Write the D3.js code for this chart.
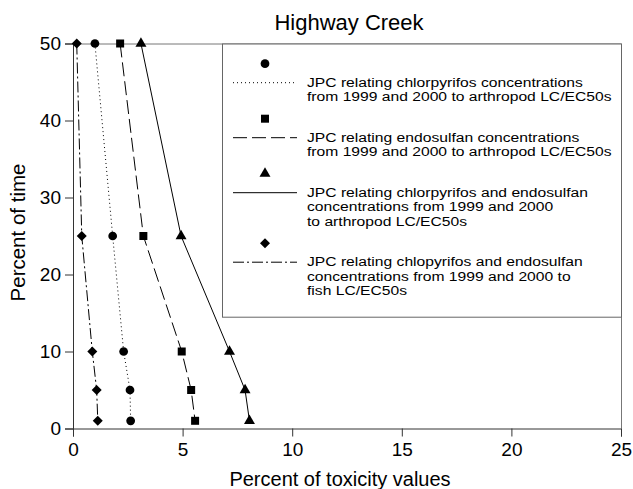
<!DOCTYPE html>
<html lang="en">

<head>
    <meta charset="UTF-8">
    <title>Highway Creek</title>
    <style>
        body {
            margin: 0;
            background: #fff;
        }

        text {
            font-family: "Liberation Sans", Arial, sans-serif;
            fill: #000;
        }
    </style>
</head>

<body>

    <script src="https://d3js.org/d3.v7.min.js"></script>

    <div id="my_dataviz"></div>
    <script>
        // data
        var pctTime = [50, 25, 10, 5, 1];
        var chlorpyrifos = [1.0, 1.81, 2.31, 2.60, 2.63];
        var endosulfan = [2.15, 3.21, 4.96, 5.39, 5.57];
        var combined = [3.10, 4.93, 7.14, 7.85, 8.05];
        var fish = [0.17, 0.40, 0.88, 1.08, 1.13];

        var xTicks = [0, 5, 10, 15, 20, 25];
        var yTicks = [0, 10, 20, 30, 40, 50];

        var legendLabels = [
            ["JPC relating chlorpyrifos concentrations", "from 1999 and 2000 to arthropod LC/EC50s"],
            ["JPC relating endosulfan concentrations", "from 1999 and 2000 to arthropod LC/EC50s"],
            ["JPC relating chlorpyrifos and endosulfan", "concentrations from 1999 and 2000", "to arthropod LC/EC50s"],
            ["JPC relating chlopyrifos and endosulfan", "concentrations from 1999 and 2000 to", "fish LC/EC50s"]
        ];

        // set the dimensions and margins of the graph
        var margin = { top: 43.5, right: 12, bottom: 60.5, left: 73 },
            width = 633 - margin.left - margin.right,
            height = 489 - margin.top - margin.bottom;

        var svg = d3.select("#my_dataviz")
            .append("svg")
            .attr("width", 633)
            .attr("height", 489)
            .append("g")
            .attr("transform", "translate(" + margin.left + "," + margin.top + ")");

        var x = d3.scaleLinear().domain([0, 25]).range([0, width]);
        var y = d3.scaleLinear().domain([0, 50]).range([height, 0]);

        // frame top and right
        svg.append("path")
            .attr("d", "M0.5,0.5H" + (width + 0.5) + "V" + height)
            .attr("fill", "none")
            .attr("stroke", "#777");

        // axes
        var xAxis = svg.append("g")
            .attr("transform", "translate(0," + height + ")")
            .call(d3.axisBottom(x).tickValues(xTicks).tickSize(8).tickPadding(6).tickFormat(d3.format("d")));
        var yAxis = svg.append("g")
            .call(d3.axisLeft(y).tickValues(yTicks).tickSize(8).tickPadding(4).tickFormat(d3.format("d")));
        [xAxis, yAxis].forEach(function (a) {
            a.selectAll("text").style("font-size", "19px").style("font-family", "Liberation Sans, Arial, sans-serif");
            a.select(".domain").attr("stroke", "#333");
            a.selectAll(".tick line").attr("stroke", "#333");
        });

        var series = [
            { vals: chlorpyrifos, dash: "1,3", sym: d3.symbolCircle, size: 60, rot: 0 },
            { vals: endosulfan, dash: "14,5", sym: d3.symbolSquare, size: 64, rot: 0 },
            { vals: combined, dash: null, sym: d3.symbolTriangle, size: 52, rot: 0 },
            { vals: fish, dash: "11,3,2,3", sym: d3.symbolSquare, size: 50, rot: 45 }
        ];

        var line = d3.line()
            .x(function (d) { return x(d[0]) })
            .y(function (d) { return y(d[1]) });

        series.forEach(function (s) {
            var pts = s.vals.map(function (v, i) { return [v, pctTime[i]]; });
            svg.append("path")
                .datum(pts)
                .attr("fill", "none")
                .attr("stroke", "#000")
                .attr("stroke-width", 1)
                .attr("stroke-dasharray", s.dash)
                .attr("d", line);
            svg.selectAll(null)
                .data(pts)
                .enter()
                .append("path")
                .attr("d", d3.symbol().type(s.sym).size(s.size))
                .attr("transform", function (d) { return "translate(" + x(d[0]) + "," + y(d[1]) + ") rotate(" + s.rot + ")"; })
                .attr("fill", "#000");
        });

        // legend
        var lgX = 222 - margin.left, lgW = 621 - 222, lgH = 316.7 - 43.5;
        var legend = svg.append("g");
        legend.append("rect")
            .attr("x", lgX + 0.5)
            .attr("y", 0.5)
            .attr("width", lgW)
            .attr("height", lgH)
            .attr("fill", "#fff")
            .attr("stroke", "#666");

        var rowY = 82.7 - margin.top;
        series.forEach(function (s, i) {
            var g = legend.append("g");
            g.append("path")
                .attr("d", d3.symbol().type(s.sym).size(s.size))
                .attr("transform", "translate(" + (265 - margin.left) + "," + (rowY - 19) + ") rotate(" + s.rot + ")")
                .attr("fill", "#000");
            g.append("line")
                .attr("x1", 233 - margin.left)
                .attr("x2", 297 - margin.left)
                .attr("y1", rowY)
                .attr("y2", rowY)
                .attr("stroke", "#000")
                .attr("stroke-dasharray", s.dash);
            legendLabels[i].forEach(function (t, j) {
                g.append("text")
                    .attr("transform", "translate(" + (307 - margin.left) + "," + (rowY + 4 + j * 14.5) + ") scale(1.16,1)")
                    .style("font-size", "13.5px")
                    .text(t);
            });
            rowY += 26 + 14.5 * legendLabels[i].length;
        });

        // titles
        d3.select("svg").append("text")
            .attr("x", 349)
            .attr("y", 29.5)
            .attr("text-anchor", "middle")
            .style("font-size", "22px")
            .text("Highway Creek");
        d3.select("svg").append("text")
            .attr("x", 340)
            .attr("y", 486)
            .attr("text-anchor", "middle")
            .style("font-size", "20px")
            .text("Percent of toxicity values");
        d3.select("svg").append("text")
            .attr("transform", "translate(25,232.5) rotate(-90)")
            .attr("text-anchor", "middle")
            .style("font-size", "20.5px")
            .text("Percent of time");
    </script>
</body>

</html>
